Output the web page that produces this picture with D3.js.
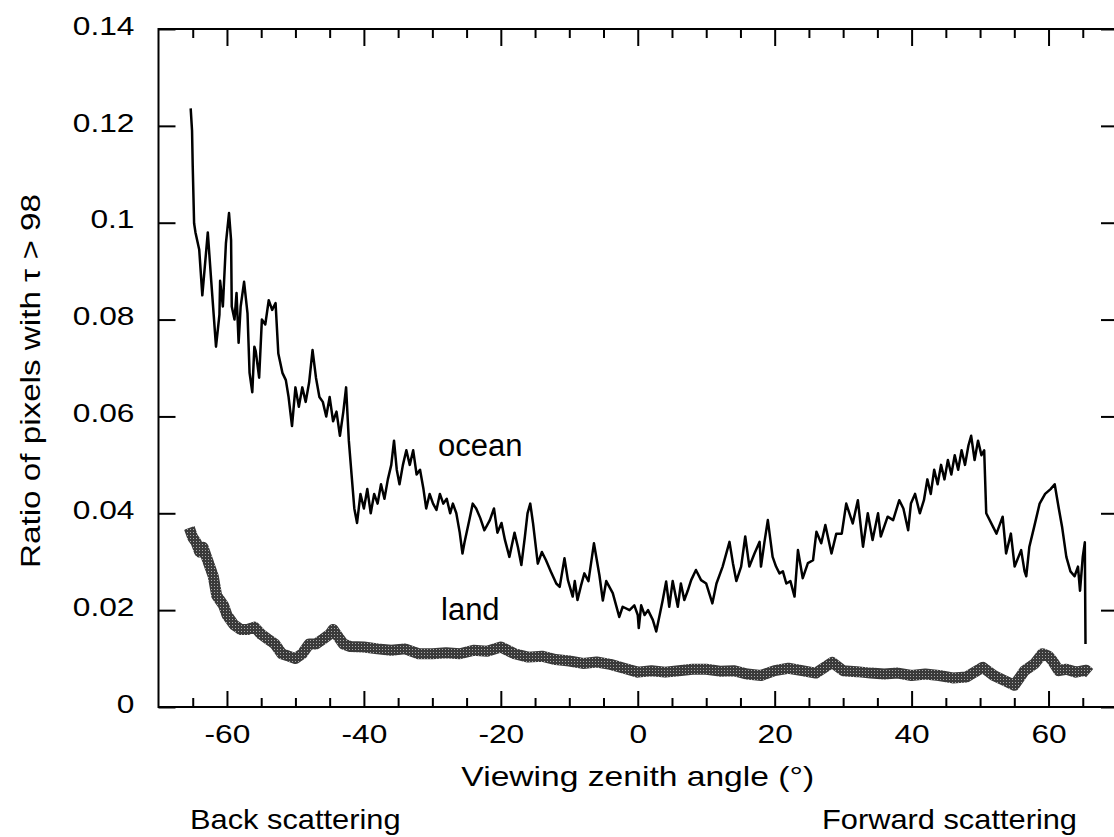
<!DOCTYPE html>
<html>
<head>
<meta charset="utf-8">
<script src="https://cdn.jsdelivr.net/npm/d3@7"></script>
<style>
  body { margin: 0; background: #fff; }
  svg text { font-family: "Liberation Sans", Arial, Helvetica, sans-serif; fill: #000; }
</style>
</head>
<body>
<svg width="1114" height="837"></svg>
<script>
// ocean: ratio of pixels with tau > 98 vs viewing zenith angle
var oceanAngle = [-65.3,-65.1,-65.0,-64.8,-64.6,-64.05,-63.6,-62.8,-62.3,-61.6,-61.1,-61.0,-60.6,-60.15,-59.7,-59.4,-59.3,-58.9,-58.6,-58.3,-58.0,-57.5,-57.0,-56.7,-56.3,-56.0,-55.8,-55.3,-54.9,-54.4,-53.9,-53.4,-52.9,-52.5,-51.9,-51.4,-51.0,-50.5,-50.0,-49.5,-49.0,-48.5,-48.0,-47.5,-47.0,-46.5,-46.0,-45.5,-45.0,-44.5,-44.0,-43.5,-43.0,-42.6,-42.2,-41.8,-41.4,-41.0,-40.5,-40.0,-39.5,-39.0,-38.5,-38.0,-37.5,-37.0,-36.5,-36.0,-35.6,-35.2,-34.8,-34.3,-33.8,-33.3,-32.8,-32.3,-31.8,-31.3,-30.9,-30.4,-29.9,-29.4,-28.9,-28.4,-27.9,-27.4,-27.0,-26.5,-26.0,-25.6,-25.3,-24.6,-24.1,-23.6,-23.0,-22.4,-21.6,-21.0,-20.5,-19.9,-19.4,-18.75,-18.0,-17.5,-17.0,-16.5,-16.1,-15.7,-15.3,-14.6,-14.0,-13.4,-12.7,-11.9,-11.4,-10.7,-10.2,-9.5,-9.2,-8.8,-8.3,-7.8,-7.2,-6.4,-5.6,-5.1,-4.6,-3.65,-2.7,-2.2,-1.2,-0.5,0.0,0.15,0.5,1.0,1.5,2.2,2.7,3.2,3.65,4.15,4.6,5.1,5.85,6.3,6.8,7.3,7.8,8.5,9.25,10.0,10.9,11.5,12.4,13.4,13.9,14.4,15.1,15.7,16.3,17.05,17.8,18.0,18.5,19.0,19.7,20.2,20.7,21.2,21.7,22.3,22.9,23.4,24.1,24.85,25.6,26.1,26.8,27.4,28.3,29.0,29.8,30.45,31.4,32.15,32.9,33.6,34.3,35.1,35.5,36.5,37.3,38.2,38.8,39.5,39.9,40.5,41.2,41.8,42.3,42.8,43.3,43.8,44.3,44.8,45.3,45.8,46.3,46.8,47.3,47.8,48.3,48.7,49.2,49.7,50.2,50.6,50.9,51.9,52.4,53.3,53.8,54.5,55.05,56.0,56.5,56.75,57.2,57.9,58.7,59.5,60.3,60.9,61.5,62.0,62.6,63.2,63.8,64.3,64.6,65.0,65.3,65.4];
var oceanRatio = [0.1236,0.119,0.1116,0.0999,0.098,0.0944,0.085,0.098,0.088,0.0744,0.081,0.088,0.0827,0.0958,0.102,0.0964,0.0827,0.080,0.0855,0.0752,0.0827,0.0878,0.0813,0.069,0.065,0.0744,0.0735,0.068,0.080,0.079,0.084,0.082,0.0834,0.073,0.069,0.0675,0.064,0.058,0.066,0.062,0.066,0.063,0.067,0.0737,0.068,0.064,0.063,0.060,0.064,0.059,0.061,0.056,0.061,0.066,0.055,0.048,0.041,0.038,0.044,0.041,0.045,0.040,0.044,0.042,0.046,0.043,0.047,0.050,0.055,0.049,0.046,0.050,0.053,0.050,0.053,0.048,0.049,0.045,0.041,0.044,0.042,0.0407,0.044,0.042,0.043,0.040,0.042,0.040,0.036,0.0317,0.034,0.0386,0.042,0.041,0.039,0.0365,0.0386,0.041,0.036,0.038,0.0345,0.031,0.036,0.033,0.0293,0.035,0.040,0.042,0.038,0.0296,0.032,0.0303,0.028,0.0255,0.0248,0.0307,0.0262,0.0228,0.026,0.0221,0.025,0.0276,0.026,0.0338,0.0272,0.022,0.026,0.0235,0.0186,0.0207,0.0200,0.021,0.019,0.0163,0.021,0.019,0.020,0.018,0.0156,0.019,0.0221,0.0259,0.0207,0.026,0.0207,0.0255,0.0221,0.024,0.0262,0.0283,0.0262,0.0255,0.0214,0.0255,0.029,0.0341,0.0297,0.026,0.029,0.0352,0.029,0.0317,0.0341,0.029,0.034,0.0386,0.031,0.029,0.0276,0.028,0.0255,0.026,0.0228,0.0324,0.0266,0.0297,0.0303,0.0362,0.0338,0.0376,0.0317,0.0358,0.0358,0.042,0.0379,0.0427,0.0331,0.040,0.0345,0.040,0.0352,0.0393,0.0386,0.0427,0.041,0.0365,0.042,0.044,0.040,0.0427,0.047,0.044,0.049,0.046,0.050,0.047,0.051,0.048,0.052,0.049,0.053,0.050,0.054,0.056,0.051,0.055,0.052,0.053,0.040,0.0372,0.0358,0.0393,0.0317,0.0358,0.029,0.0324,0.028,0.027,0.0331,0.0372,0.042,0.044,0.045,0.046,0.041,0.037,0.031,0.028,0.027,0.029,0.024,0.031,0.034,0.013];

// land
var landAngle = [-65.5,-65.0,-64.5,-64.0,-63.5,-63.0,-62.5,-62.0,-61.5,-61.0,-60.5,-60.0,-59.0,-58.5,-58.0,-57.0,-56.0,-55.0,-54.0,-53.0,-52.0,-51.0,-50.0,-49.0,-48.0,-47.0,-46.0,-45.0,-44.5,-44.0,-43.0,-42.0,-40.0,-38.0,-36.0,-34.0,-32.0,-30.0,-28.0,-26.0,-24.0,-22.0,-20.0,-18.0,-16.0,-14.0,-12.0,-10.0,-8.0,-6.0,-4.0,-2.0,0.0,2.0,4.0,6.0,8.0,10.0,12.0,14.0,16.0,18.0,20.0,22.0,24.0,26.0,28.4,30.0,32.0,34.0,36.0,38.0,40.0,42.0,44.0,46.0,48.0,50.4,52.0,53.5,55.0,56.5,58.0,59.1,60.0,60.6,61.5,62.6,64.0,65.5,66.0];
var landRatio = [0.037,0.035,0.034,0.032,0.033,0.031,0.029,0.027,0.023,0.022,0.021,0.019,0.017,0.0165,0.016,0.016,0.0165,0.015,0.014,0.013,0.011,0.0105,0.0100,0.011,0.013,0.013,0.014,0.015,0.016,0.015,0.013,0.0125,0.0124,0.012,0.0117,0.012,0.011,0.011,0.0112,0.011,0.0117,0.0115,0.0124,0.011,0.0103,0.0105,0.0098,0.0095,0.009,0.0093,0.0088,0.008,0.0072,0.0075,0.0072,0.0075,0.0078,0.0078,0.0074,0.0075,0.0068,0.0065,0.0075,0.008,0.0075,0.007,0.0092,0.0075,0.0073,0.007,0.0068,0.007,0.0065,0.0068,0.0065,0.006,0.0062,0.0082,0.0065,0.0055,0.0045,0.0075,0.009,0.011,0.0105,0.0095,0.0075,0.0078,0.0072,0.0076,0.007];

var xMajor = [-60, -40, -20, 0, 20, 40, 60];
var xMinor = [-65, -55, -50, -45, -35, -30, -25, -15, -10, -5, 5, 10, 15, 25, 30, 35, 45, 50, 55, 65];
var yTicks = [0, 0.02, 0.04, 0.06, 0.08, 0.1, 0.12, 0.14];
var yTickLabels = ["0", "0.02", "0.04", "0.06", "0.08", "0.1", "0.12", "0.14"];

var svg = d3.select("svg");
var plotL = 158.5, plotR = 1117, plotT = 29, plotB = 707;

var x = d3.scaleLinear().domain([-70, 70]).range([plotL, plotR]);
var y = d3.scaleLinear().domain([0, 0.14]).range([plotB, plotT]);

// the lettering in the original is wider than Liberation Sans, so widen it
function widen(sel, k) {
    sel.each(function() {
        var w = this.getComputedTextLength();
        d3.select(this).attr("textLength", w * k).attr("lengthAdjust", "spacingAndGlyphs");
    });
}

// stipple for the land band
var pat = svg.append("defs").append("pattern")
    .attr("id", "stipple")
    .attr("patternUnits", "userSpaceOnUse")
    .attr("width", 3).attr("height", 3);
pat.append("rect").attr("width", 3).attr("height", 3).attr("fill", "#3a3a3a");
pat.append("rect").attr("x", 1).attr("y", 1).attr("width", 1).attr("height", 1).attr("fill", "#aaa");

// frame
svg.append("rect")
    .attr("x", plotL).attr("y", plotT)
    .attr("width", plotR - plotL).attr("height", plotB - plotT)
    .attr("fill", "none").attr("stroke", "#000").attr("stroke-width", 2);

function styleAxis(g) {
    g.select(".domain").remove();
    g.selectAll(".tick line").attr("stroke", "#000").attr("stroke-width", 2);
    g.selectAll(".tick text").style("font-size", "26px");
}

// bottom axis
svg.append("g")
    .attr("transform", "translate(0," + plotB + ")")
    .call(d3.axisBottom(x).tickValues(xMajor).tickSizeInner(-16).tickPadding(18)
        .tickFormat(function(d) { return String(d); }))
    .call(styleAxis)
    .selectAll(".tick text").call(widen, 1.22);
svg.append("g")
    .attr("transform", "translate(0," + plotB + ")")
    .call(d3.axisBottom(x).tickValues(xMinor).tickSizeInner(-9).tickFormat(""))
    .call(styleAxis);
// top axis
svg.append("g")
    .attr("transform", "translate(0," + plotT + ")")
    .call(d3.axisTop(x).tickValues(xMajor).tickSizeInner(-17).tickFormat(""))
    .call(styleAxis);
svg.append("g")
    .attr("transform", "translate(0," + plotT + ")")
    .call(d3.axisTop(x).tickValues(xMinor).tickSizeInner(-9).tickFormat(""))
    .call(styleAxis);
// left axis
svg.append("g")
    .attr("transform", "translate(" + plotL + ",0)")
    .call(d3.axisLeft(y).tickValues(yTicks).tickSizeInner(-17).tickPadding(24)
        .tickFormat(function(d, i) { return yTickLabels[i]; }))
    .call(styleAxis)
    .selectAll(".tick text").attr("dy", "0.2em").call(widen, 1.22);
// right axis
svg.append("g")
    .attr("transform", "translate(" + plotR + ",0)")
    .call(d3.axisRight(y).tickValues(yTicks).tickSizeInner(-16).tickFormat(""))
    .call(styleAxis);

// land band
var land = landAngle.map(function(a, i) { return [a, landRatio[i]]; });
svg.append("path")
    .datum(land)
    .attr("fill", "none")
    .attr("stroke", "url(#stipple)")
    .attr("stroke-width", 11)
    .attr("stroke-linejoin", "round")
    .attr("d", d3.line().x(function(d) { return x(d[0]); }).y(function(d) { return y(d[1]); }));

// ocean line
var ocean = oceanAngle.map(function(a, i) { return [a, oceanRatio[i]]; });
svg.append("path")
    .datum(ocean)
    .attr("fill", "none")
    .attr("stroke", "#000")
    .attr("stroke-width", 2.5)
    .attr("stroke-linejoin", "round")
    .attr("d", d3.line().x(function(d) { return x(d[0]); }).y(function(d) { return y(d[1]); }));

// labels
svg.append("text").attr("x", 438).attr("y", 456).style("font-size", "31px").text("ocean");
svg.append("text").attr("x", 441).attr("y", 620).style("font-size", "31px").text("land");

svg.append("text")
    .attr("transform", "translate(40,381) rotate(-90)")
    .attr("text-anchor", "middle")
    .style("font-size", "27px")
    .text("Ratio of pixels with \u03c4 > 98")
    .call(widen, 1.23);

svg.append("text")
    .attr("x", x(0)).attr("y", 786)
    .attr("text-anchor", "middle")
    .style("font-size", "28px")
    .text("Viewing zenith angle (\u00b0)")
    .call(widen, 1.2);

svg.append("text").attr("x", 190).attr("y", 829).style("font-size", "28px")
    .text("Back scattering").call(widen, 1.1);
svg.append("text").attr("x", 1077).attr("y", 829).attr("text-anchor", "end").style("font-size", "28px")
    .text("Forward scattering").call(widen, 1.1);
</script>
</body>
</html>
